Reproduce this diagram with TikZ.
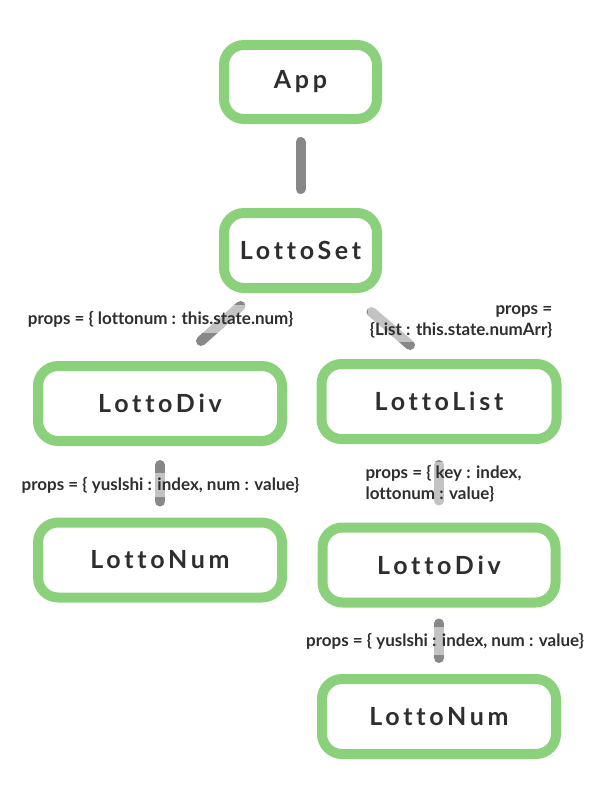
\documentclass[tikz,border=0pt]{standalone}
\usepackage{fontspec}
\setmainfont{Lato}[Ligatures={NoCommon}]
\newfontfamily\boxfont{Lato}[LetterSpace=15,Ligatures={NoCommon}]
\definecolor{boxgreen}{HTML}{8BD17C}
\definecolor{conngray}{HTML}{888888}
\definecolor{txtc}{HTML}{2E2E2E}
\begin{document}
\begin{tikzpicture}[x=1pt,y=-1pt,
  box/.style={draw=boxgreen, line width=10pt, rounded corners=20pt, fill=white,
    minimum height=75pt, inner sep=0pt, text=txtc,
    font=\boxfont\fontsize{25}{30}\selectfont\bfseries},
  conn/.style={draw=conngray, line width=10pt, line cap=round},
  lab/.style={fill=white, fill opacity=0.5, text opacity=1, text=txtc,
    inner xsep=2pt, inner ysep=4pt,
    font=\fontsize{17}{21}\selectfont\bfseries}]
\useasboundingbox (0,0) rectangle (600,800);
\node[box, minimum width=153pt, minimum height=74pt] (app) at (300.5,82) {App};
\node[box, minimum width=153pt] (set) at (300.5,250.5) {LottoSet};
\node[box, minimum width=244pt] (ldiv) at (160,403.5) {LottoDiv};
\node[box, minimum width=235pt] (list) at (439,401.5) {LottoList};
\node[box, minimum width=244pt] (lnum) at (160,560) {LottoNum};
\node[box, minimum width=233pt] (rdiv) at (439,565) {LottoDiv};
\node[box, minimum width=234pt] (rnum) at (439,716.5) {LottoNum};
% connectors
\draw[conn, shorten <=18pt, shorten >=19pt] (app) -- (set);
\draw[conn] ([shift={(-60,13)}]set.south) -- ([shift={(41,-20)}]ldiv.north);
\draw[conn] ([shift={(71,19)}]set.south) -- ([shift={(-29,-14)}]list.north);
\draw[conn, shorten <=19pt, shorten >=16pt] (ldiv) -- (lnum);
\draw[conn, shorten <=21pt, shorten >=22pt] (list) -- (rdiv);
\draw[conn, shorten <=16pt, shorten >=16pt] (rdiv) -- (rnum);
% labels
\node[lab, minimum height=28pt] (l1) at (160.5,319) {props = \{ lottonum : this.state.num\}};
\node[lab, align=right] (l2) at (461,322) {props =\\\{List : this.state.numArr\}};
\node[lab, minimum height=24pt] (l3) at (160.5,485) {props = \{ yuslshi : index, num : value\}};
\node[lab, align=left] (l4) at (443.5,484) {props = \{ key : index,\\lottonum : value\}};
\node[lab, minimum height=28pt] (l5) at (445,641) {props = \{ yuslshi : index, num : value\}};
\end{tikzpicture}
\end{document}
